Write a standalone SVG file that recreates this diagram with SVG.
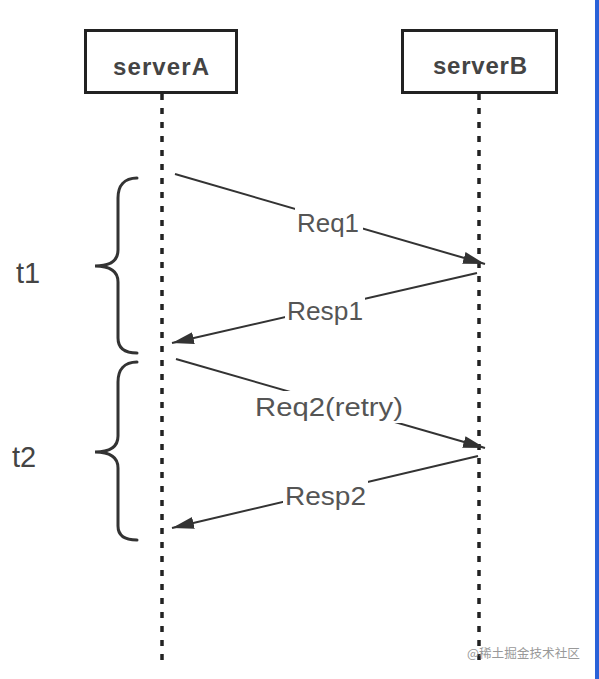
<svg xmlns="http://www.w3.org/2000/svg" width="599" height="679" viewBox="0 0 599 679">
<style>
.box{fill:#fff;stroke:#222;stroke-width:3}
.name{font-family:"Liberation Sans",Arial,sans-serif;font-size:24px;font-weight:bold;fill:#444;text-anchor:middle}
.life{stroke:#222;stroke-width:3.5;stroke-dasharray:6 8;fill:none}
.msg{stroke:#333;stroke-width:2;fill:none;marker-end:url(#ah)}
.lbl{font-family:"Liberation Sans",Arial,sans-serif;font-size:26px;fill:#555;text-anchor:middle}
.bg{fill:#fff}
.brace{stroke:#333;stroke-width:3;fill:none;stroke-linecap:round}
.t{font-family:"Liberation Sans",Arial,sans-serif;font-size:29px;fill:#444}
</style>
<defs>
<marker id="ah" markerUnits="userSpaceOnUse" markerWidth="23" markerHeight="13" refX="22" refY="6" orient="auto">
<path d="M0,0 L22,6 L0,12 z" fill="#333"/>
</marker>
</defs>
<rect x="0" y="0" width="599" height="679" fill="#fff"/>
<rect x="595" y="0" width="4" height="679" fill="#2a62d8"/>
<g id="serverA">
<rect class="box" x="85.5" y="30.5" width="151" height="62"/>
<text class="name" x="161" y="75" textLength="96" lengthAdjust="spacing">serverA</text>
</g>
<g id="serverB">
<rect class="box" x="402.5" y="30.5" width="154" height="62"/>
<text class="name" x="480" y="74" textLength="94" lengthAdjust="spacing">serverB</text>
</g>
<g id="lifelines">
<line class="life" x1="162" y1="94" x2="162" y2="660"/>
<line class="life" x1="479" y1="94" x2="479" y2="660"/>
</g>
<g id="connectors">
<line class="msg" x1="175" y1="174" x2="485" y2="264"/>
<line class="msg" x1="477" y1="273" x2="172" y2="343"/>
<line class="msg" x1="176" y1="359" x2="485" y2="448"/>
<line class="msg" x1="478" y1="456" x2="172" y2="528"/>
</g>
<g id="labels">
<rect class="bg" x="295" y="208" width="68" height="30"/>
<text class="lbl" x="328" y="232" textLength="62" lengthAdjust="spacingAndGlyphs">Req1</text>
<rect class="bg" x="285" y="296" width="80" height="30"/>
<text class="lbl" x="325" y="320" textLength="76" lengthAdjust="spacingAndGlyphs">Resp1</text>
<rect class="bg" x="253" y="391" width="152" height="32"/>
<text class="lbl" x="329" y="416" textLength="148" lengthAdjust="spacingAndGlyphs">Req2(retry)</text>
<rect class="bg" x="283" y="481" width="85" height="30"/>
<text class="lbl" x="325.5" y="505" textLength="81" lengthAdjust="spacingAndGlyphs">Resp2</text>
</g>
<g id="t1">
<path class="brace" d="M137,178 C124,178 118,186 118,198 L118,250 C118,260 111,266 95,266 C111,266 118,272 118,282 L118,338 C118,348 124,353 137,353"/>
<text class="t" x="16" y="283">t1</text>
</g>
<g id="t2">
<path class="brace" d="M137,362 C124,362 118,370 118,382 L118,436 C118,446 111,452 95,452 C111,452 118,458 118,468 L118,526 C118,535 124,540 137,540"/>
<text class="t" x="12" y="467">t2</text>
</g>
<text x="467" y="658" font-family="'Noto Sans CJK SC',sans-serif" font-size="12.5" fill="#999" textLength="113" lengthAdjust="spacingAndGlyphs">@稀土掘金技术社区</text>
</svg>
